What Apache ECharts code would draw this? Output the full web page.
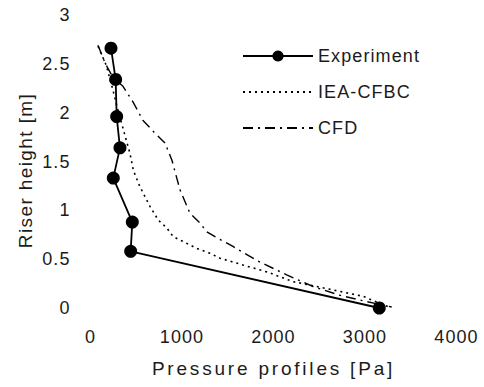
<!DOCTYPE html>
<html><head><meta charset="utf-8">
<script src="https://cdn.jsdelivr.net/npm/echarts@6/dist/echarts.min.js"></script>
<style>
html,body{margin:0;padding:0;background:#fff}
#chart{width:484px;height:387px}
</style></head><body><div id="chart"></div>
<script>
const xTicks = [0, 1000, 2000, 3000, 4000];
const yTicks = [0, 0.5, 1, 1.5, 2, 2.5, 3];
const seriesNames = ['Experiment', 'IEA-CFBC', 'CFD'];
const expPressure = [224, 275, 286, 322, 249, 457, 439, 3156];
const expHeight   = [2.66, 2.34, 1.96, 1.64, 1.33, 0.88, 0.58, 0];
const ieaPressure = [82, 170, 246, 290, 355, 432, 468, 541, 650, 741, 833, 905, 1014, 1161, 1306, 1415, 1667, 1926, 2213, 2472, 2727, 2978, 3260];
const ieaHeight   = [2.68, 2.49, 2.23, 2.06, 1.84, 1.58, 1.41, 1.24, 1.04, 0.90, 0.82, 0.73, 0.68, 0.61, 0.56, 0.51, 0.44, 0.37, 0.27, 0.22, 0.17, 0.12, 0.01];
const cfdPressure = [82, 158, 246, 355, 464, 574, 705, 814, 891, 978, 1087, 1197, 1270, 1379, 1557, 1852, 2144, 2432, 2727, 3019, 3292];
const cfdHeight   = [2.69, 2.51, 2.36, 2.27, 2.11, 1.92, 1.79, 1.69, 1.51, 1.21, 0.97, 0.87, 0.78, 0.72, 0.63, 0.47, 0.34, 0.22, 0.13, 0.065, 0.01];

const pairs = (xs, ys) => xs.map((x, i) => [x, ys[i]]);
const FONT = '"Liberation Sans", Arial, sans-serif';
const TXT = '#1b1b1b';

const chart = echarts.init(document.getElementById('chart'), null, {renderer: 'svg'});
chart.setOption({
  animation: false,
  backgroundColor: '#fff',
  grid: {left: 90.5, right: 27.5, top: 15, bottom: 79},
  legend: {
    data: [
      {name: seriesNames[0]},
      {name: seriesNames[1], itemStyle: {opacity: 0}},
      {name: seriesNames[2], itemStyle: {opacity: 0}}
    ],
    orient: 'vertical',
    left: 237, top: 42,
    itemWidth: 70, itemHeight: 14, itemGap: 18,
    textStyle: {fontSize: 18, color: TXT, fontFamily: FONT}
  },
  xAxis: {
    type: 'value', min: xTicks[0], max: xTicks[xTicks.length - 1], interval: 1000,
    name: 'Pressure profiles [Pa]', nameLocation: 'middle', nameGap: 51,
    nameTextStyle: {fontSize: 19, color: TXT, fontFamily: FONT},
    axisLine: {show: false}, axisTick: {show: false}, splitLine: {show: false},
    axisLabel: {fontSize: 18, color: TXT, fontFamily: FONT, margin: 20, formatter: v => String(v)}
  },
  yAxis: {
    type: 'value', min: yTicks[0], max: yTicks[yTicks.length - 1], interval: 0.5,
    name: 'Riser height [m]', nameLocation: 'middle', nameGap: 56,
    nameTextStyle: {fontSize: 19, color: TXT, fontFamily: FONT, padding: [0, 18, 0, 0]},
    axisLine: {show: false}, axisTick: {show: false}, splitLine: {show: false},
    axisLabel: {fontSize: 18, color: TXT, fontFamily: FONT, margin: 20, formatter: v => String(v)}
  },
  series: [
    {
      name: seriesNames[0], type: 'line', data: pairs(expPressure, expHeight),
      symbol: 'circle', symbolSize: 13, z: 5,
      itemStyle: {color: '#000'}, lineStyle: {color: '#000', width: 1.8}
    },
    {
      name: seriesNames[1], type: 'line', data: pairs(ieaPressure, ieaHeight),
      symbol: 'none', z: 3,
      itemStyle: {color: '#000'}, lineStyle: {color: '#000', width: 1.6, type: [2, 4]}
    },
    {
      name: seriesNames[2], type: 'line', data: pairs(cfdPressure, cfdHeight),
      symbol: 'none', z: 4,
      itemStyle: {color: '#000'}, lineStyle: {color: '#000', width: 1.4, type: [10, 5, 2, 5]}
    }
  ]
});
// widen letter spacing to match the scanned figure's typography
document.querySelectorAll('#chart text').forEach(t => {
  const s = t.textContent;
  let ls = '1.1px';
  if (s === 'Pressure profiles [Pa]') ls = '2.8px';
  else if (s === 'Riser height [m]') ls = '1.4px';
  t.setAttribute('letter-spacing', ls);
});
</script></body></html>
